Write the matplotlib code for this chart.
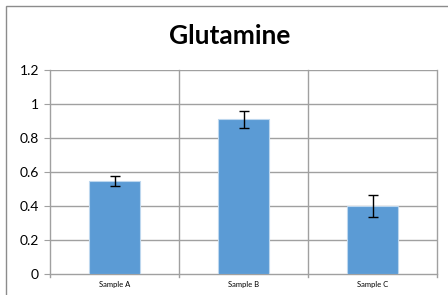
import numpy as np
import matplotlib.pyplot as plt
from matplotlib.patches import Rectangle

categories = ['Sample A', 'Sample B', 'Sample C']
values = [0.545, 0.91, 0.40]
errors = [0.03, 0.05, 0.062]
yticks = [0, 0.2, 0.4, 0.6, 0.8, 1, 1.2]
yticklabels = ['0', '0.2', '0.4', '0.6', '0.8', '1', '1.2']

plt.rcParams['font.family'] = ['Lato', 'DejaVu Sans']

fig = plt.figure(figsize=(4.48, 2.95), dpi=100)
ax = fig.add_axes([50/448, 1-274/295, 387/448, 204/295])

# chart border (cut off at right and bottom in the original)
fig.patches.append(Rectangle((6/448, -0.1), 1.2, 1 - 6/295 + 0.1, transform=fig.transFigure,
                             fill=False, edgecolor='#8c8c8c', linewidth=1.0))

x = np.arange(len(categories))
ax.bar(x, values, width=0.4, color='#5b9bd5', edgecolor='#bdd7ee', linewidth=0.8, zorder=3)
ax.errorbar(x, values, yerr=errors, fmt='none', ecolor='black', elinewidth=1.0,
            capsize=3.5, capthick=1.0, zorder=4)

ax.set_xlim(-0.5, len(categories) - 0.5)
ax.set_ylim(0, 1.2)
ax.set_yticks(yticks)
ax.set_yticklabels(yticklabels, fontsize=10)
ax.set_xticks(x)
ax.set_xticklabels(categories, fontsize=5.5)
ax.tick_params(axis='x', length=0, pad=5)
ax.tick_params(axis='y', length=4, color='#a0a0a0', pad=4)

# gridlines
for yt in yticks[1:]:
    ax.axhline(yt, color='#a0a0a0', linewidth=1.0, zorder=1)
for b in np.arange(-0.5, len(categories), 1.0):
    ax.plot([b, b], [-0.02, 1.2], color='#a0a0a0', linewidth=1.0, zorder=1, clip_on=False)

for s in ['top', 'right', 'left']:
    ax.spines[s].set_visible(False)
ax.spines['bottom'].set_color('#a0a0a0')
ax.spines['bottom'].set_linewidth(1.0)

fig.text(230/448, 1 - 36/295, 'Glutamine', ha='center', va='center', fontsize=19, fontweight='bold')

fig.savefig('out.png', dpi=100)
